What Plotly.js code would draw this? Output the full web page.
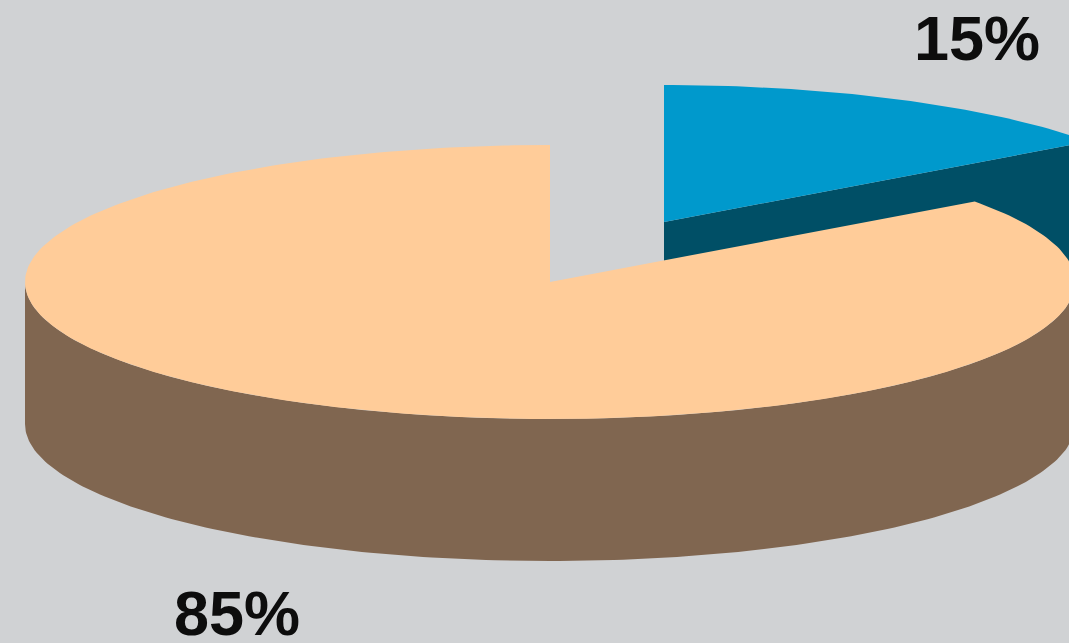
<!DOCTYPE html>
<html>
<head>
<meta charset="utf-8">
<script src="https://cdn.plot.ly/plotly-3.0.1.min.js"></script>
<style>html,body{margin:0;padding:0;background:#d0d2d4;overflow:hidden}</style>
</head>
<body>
<div id="chart" style="width:1069px;height:643px"></div>
<script>
// Slice shares, clockwise from twelve o'clock
const labels = ['Minority', 'Majority'];
const shares = [15, 85];

// Disc projection used for both slices
const radiusX = 525, radiusY = 137, depth = 142;
const mainCentre = [550, 282];
const pulledCentre = [664, 222];

const topColors = ['#0099cc', '#ffcc99'];
const sideColors = ['#004f66', '#806650'];
const background = '#d0d2d4';

function rimPoint(c, deg, drop) {
  const a = deg * Math.PI / 180;
  return [c[0] + radiusX * Math.sin(a), c[1] - radiusY * Math.cos(a) + (drop || 0)];
}
function arc(c, from, to, drop) {
  const pts = [];
  for (let d = from; d <= to + 1e-6; d += 1) pts.push(rimPoint(c, d, drop));
  return pts;
}
function shape(pts, color) {
  pts = pts.concat([pts[0]]);
  return {
    x: pts.map(p => p[0]), y: pts.map(p => p[1]),
    type: 'scatter', mode: 'lines', fill: 'toself', fillcolor: color,
    line: {width: 0, color: color}, hoverinfo: 'skip', showlegend: false
  };
}

const cut = shares[0] / (shares[0] + shares[1]) * 360;
const cutEdge = rimPoint(pulledCentre, cut);

const traces = [
  // pulled slice: exposed cut face, then its top
  shape([pulledCentre, cutEdge, [cutEdge[0], cutEdge[1] + depth],
         [pulledCentre[0], pulledCentre[1] + depth]], sideColors[0]),
  shape([pulledCentre].concat(arc(pulledCentre, 0, cut)), topColors[0]),
  // main slice: front wall, then its top
  shape(arc(mainCentre, 90, 270).concat(arc(mainCentre, 90, 270, depth).reverse()), sideColors[1]),
  shape([mainCentre].concat(arc(mainCentre, cut, 360)), topColors[1])
];

const percentLabels = shares.map(s => s + '%');

const layout = {
  width: 1069, height: 643,
  margin: {l: 0, r: 0, t: 0, b: 0},
  paper_bgcolor: background, plot_bgcolor: background,
  xaxis: {range: [0, 1069], visible: false, fixedrange: true},
  yaxis: {range: [643, 0], visible: false, fixedrange: true},
  showlegend: false,
  annotations: [
    {x: 977, y: 38, text: percentLabels[0]},
    {x: 237, y: 613, text: percentLabels[1]}
  ].map(a => Object.assign(a, {
    xref: 'x', yref: 'y', showarrow: false,
    font: {family: 'Liberation Sans, Arial, sans-serif', size: 63, color: '#0d0d0d', weight: 700}
  }))
};

Plotly.newPlot('chart', traces, layout, {displayModeBar: false, staticPlot: true});
</script>
</body>
</html>
